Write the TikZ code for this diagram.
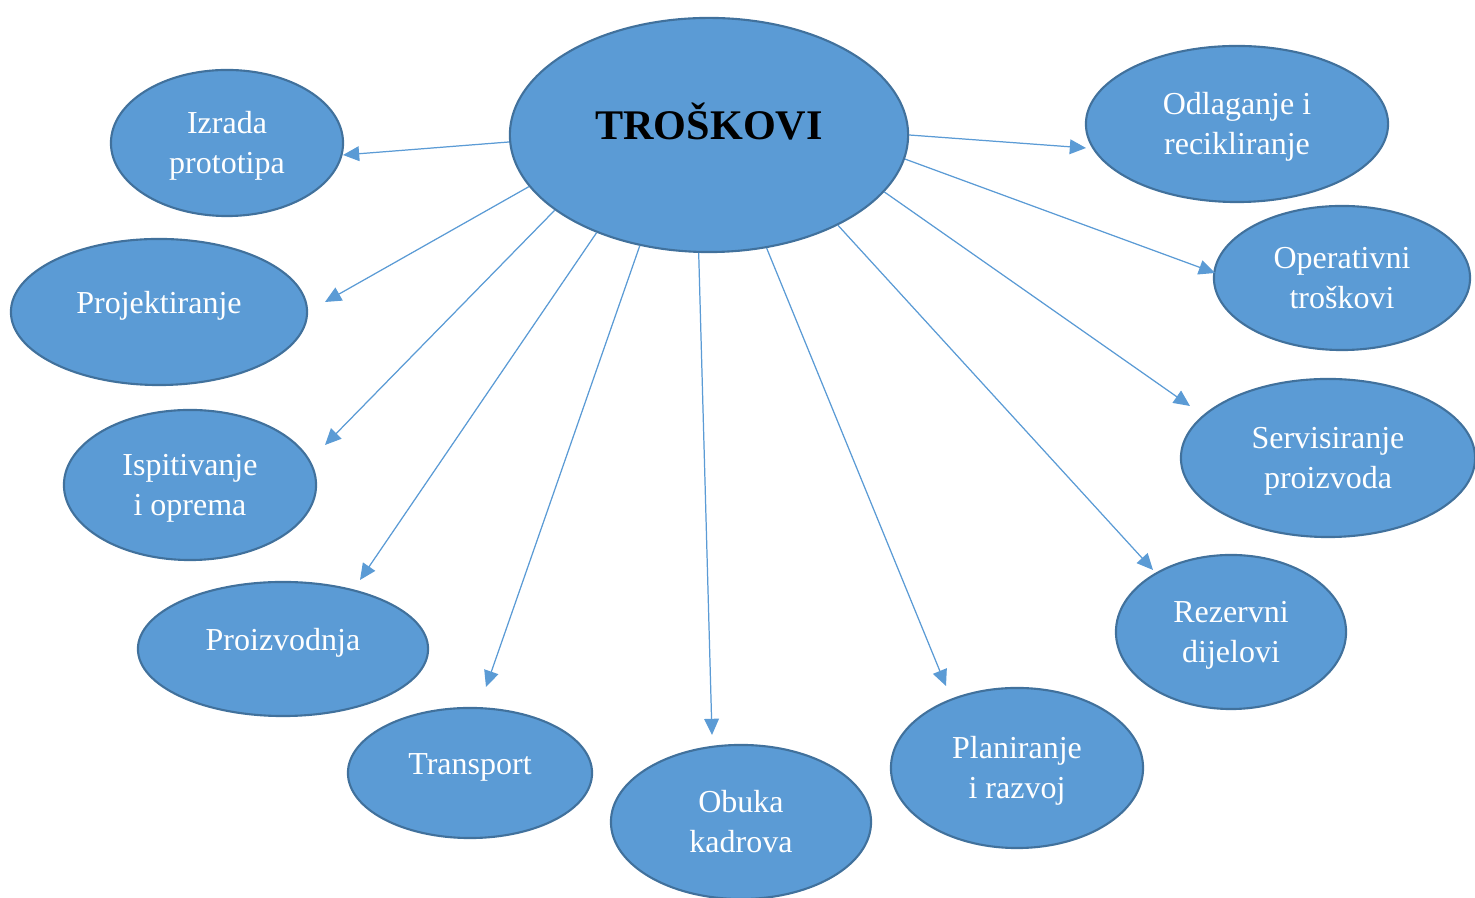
\documentclass[tikz,border=0pt]{standalone}
\usepackage{fontspec}
\setmainfont{Liberation Serif}
\usetikzlibrary{shapes.geometric,arrows.meta}
\definecolor{blobfill}{HTML}{5B9BD5}
\definecolor{blobline}{HTML}{41719C}
\tikzset{
	blob/.style={ellipse, draw=blobline, fill=blobfill, line width=0.6pt, inner sep=0pt, text=white, align=center, text height=19.4pt, text depth=2pt, font=\fontsize{9.1}{11.4}\selectfont},
	oneline/.style={text height=6.5pt, text depth=5.8pt},
	cost/.style={draw=blobfill, line width=0.35pt, -{Triangle[length=4.6pt,width=4.2pt]}, fill=blobfill}
}
\begin{document}
\begin{tikzpicture}[x=0.01cm,y=-0.01cm]
		\useasboundingbox (0,0) rectangle (1475,898);
		\node[blob, minimum width=3.98cm, minimum height=2.34cm, text=black, font=\fontsize{12}{14}\selectfont\bfseries, text height=10.5pt, text depth=8pt] (tr) at (709,135) {TROŠKOVI};
		\node[blob, minimum width=2.32cm, minimum height=1.46cm] (izrada) at (227,143) {Izrada\\prototipa};
		\node[blob, oneline, minimum width=2.96cm, minimum height=1.46cm] (projekt) at (159,312) {Projektiranje};
		\node[blob, minimum width=2.52cm, minimum height=1.50cm] (ispit) at (190,485) {Ispitivanje\\i oprema};
		\node[blob, oneline, minimum width=2.90cm, minimum height=1.34cm] (proizv) at (283,649) {Proizvodnja};
		\node[blob, oneline, minimum width=2.44cm, minimum height=1.30cm] (transp) at (470,773) {Transport};
		\node[blob, minimum width=2.60cm, minimum height=1.54cm] (obuka) at (741,822) {Obuka\\kadrova};
		\node[blob, minimum width=2.52cm, minimum height=1.60cm] (planir) at (1017,768) {Planiranje\\i razvoj};
		\node[blob, minimum width=2.30cm, minimum height=1.54cm] (rezerv) at (1231,632) {Rezervni\\dijelovi};
		\node[blob, minimum width=2.94cm, minimum height=1.58cm] (servis) at (1328,458) {Servisiranje\\proizvoda};
		\node[blob, minimum width=2.56cm, minimum height=1.44cm] (operat) at (1342,278) {Operativni\\troškovi};
		\node[blob, minimum width=3.02cm, minimum height=1.56cm] (odlag) at (1237,124) {Odlaganje i\\recikliranje};
		% arrow ends
		\coordinate (e1) at (343,155);
		\coordinate (e2) at (325,302);
		\coordinate (e3) at (325,445);
		\coordinate (e4) at (360,580);
		\coordinate (e5) at (486,687);
		\coordinate (e6) at (712,735);
		\coordinate (e7) at (946,686);
		\coordinate (e8) at (1153,570);
		\coordinate (e9) at (1190,406);
		\coordinate (e10) at (1215,273);
		\coordinate (e11) at (1086,148);
		\draw[cost] (tr.182.8) -- (e1);
		\draw[cost] (tr.196.5) -- (e2);
		\draw[cost] (tr.206.6) -- (e3);
		\draw[cost] (tr.221.1) -- (e4);
		\draw[cost] (tr.238.3) -- (e5);
		\draw[cost] (tr.265.7) -- (e6);
		\draw[cost] (tr.297.6) -- (e7);
		\draw[cost] (tr.325.5) -- (e8);
		\draw[cost] (tr.342.7) -- (e9);
		\draw[cost] (tr.353.9) -- (e10);
		\draw[cost] (tr.0) -- (e11);
	\end{tikzpicture}
\end{document}
